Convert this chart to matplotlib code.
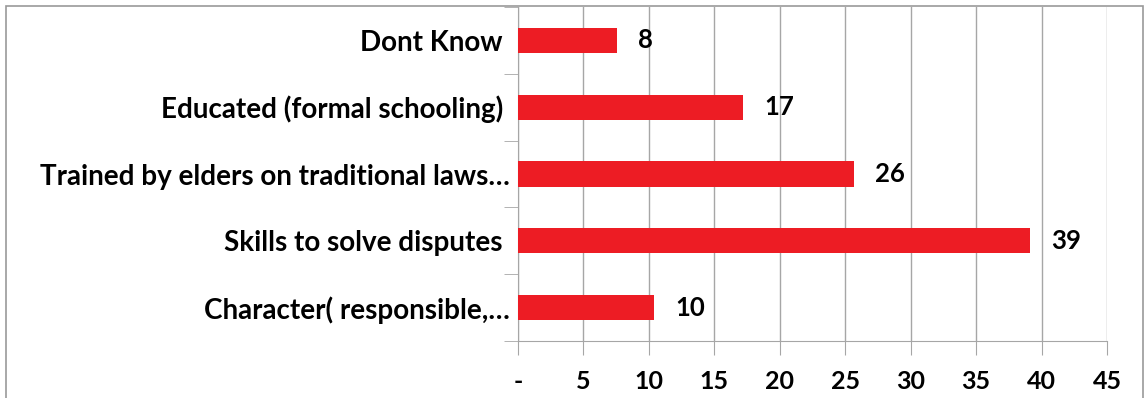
import matplotlib.pyplot as plt
import matplotlib.patches as patches
import numpy as np

# data, bottom to top as drawn
categories = ["Character( responsible,\u2026", "Skills to solve disputes ",
              "Trained by elders on traditional laws\u2026",
              "Educated (formal schooling) ", "Dont Know "]
values = [10.4, 39.1, 25.7, 17.2, 7.6]
x_ticks = [0, 5, 10, 15, 20, 25, 30, 35, 40, 45]
x_tick_labels = ["-", "5", "10", "15", "20", "25", "30", "35", "40", "45"]

plt.rcParams['font.family'] = ['Lato', 'DejaVu Sans']
plt.rcParams['font.weight'] = 'bold'

fig = plt.figure(figsize=(11.47, 3.98), dpi=100)
ax = fig.add_axes([518/1147, 1 - 341/398, (1107 - 518)/1147, (341 - 7)/398])

y = np.arange(len(categories))
ax.barh(y, values, height=0.375, color="#ED1C24", zorder=3)
for yi, v in zip(y, values):
    ax.text(v + 1.6, yi, "{:.0f}".format(v), va="center", ha="left",
            fontsize=18.5, fontweight="bold", color="black")

ax.set_xlim(0, 45)
ax.set_ylim(-0.5, len(categories) - 0.5)
ax.set_xticks(x_ticks)
ax.set_xticklabels(x_tick_labels)
ax.set_yticks(y)
ax.set_yticklabels(categories)
ax.set_yticks(np.arange(-0.5, len(categories)), minor=True)

grid_c = "#A6A6A6"
ax.grid(axis="x", color=grid_c, lw=1, zorder=0)
for s in ["top", "right"]:
    ax.spines[s].set_visible(False)
ax.spines["left"].set_color(grid_c)
ax.spines["bottom"].set_color(grid_c)
ax.tick_params(axis="x", length=10, color=grid_c, labelsize=18, pad=11)
ax.tick_params(axis="y", which="major", length=0, labelsize=20, pad=6)
ax.tick_params(axis="y", which="minor", length=10, color=grid_c)

# chart border (bottom edge lies outside the image)
fig.patches.append(patches.Rectangle((6/1147, -10/398), 1137/1147, 402/398,
                                     transform=fig.transFigure, fill=False,
                                     edgecolor="#999999", lw=1.2))

fig.savefig("out.png", dpi=100)
